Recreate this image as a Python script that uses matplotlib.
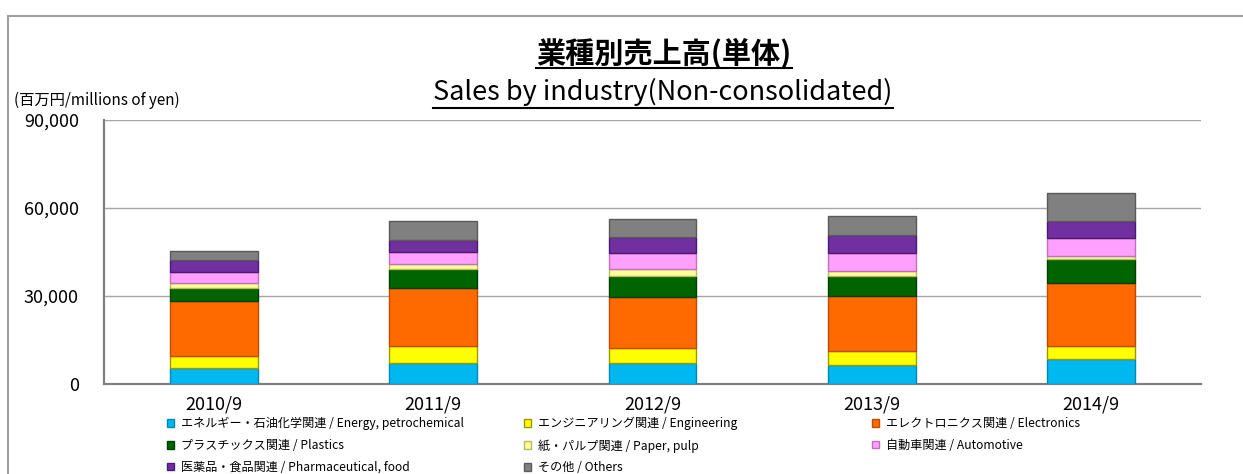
import numpy as np
import matplotlib
matplotlib.use('Agg')
import matplotlib.pyplot as plt
from matplotlib.lines import Line2D
from matplotlib.ticker import FuncFormatter

plt.rcParams['font.family'] = ['Noto Sans CJK JP', 'DejaVu Sans']

# data (millions of yen)
periods = ['2010/9', '2011/9', '2012/9', '2013/9', '2014/9']
energy = [5350, 7270, 7050, 6500, 8400]
engineering = [4300, 5680, 5350, 4750, 4550]
electronics = [18750, 19650, 17400, 18750, 21350]
plastics = [4200, 6600, 7000, 6900, 8200]
paper = [1700, 1600, 2300, 1700, 1100]
automotive = [4000, 4300, 5400, 6200, 6100]
pharma = [4000, 4000, 5500, 6000, 5900]
others = [3000, 6600, 6100, 6500, 9600]

labels = ['エネルギー・石油化学関連 / Energy, petrochemical',
          'エンジニアリング関連 / Engineering',
          'エレクトロニクス関連 / Electronics',
          'プラスチックス関連 / Plastics',
          '紙・パルプ関連 / Paper, pulp',
          '自動車関連 / Automotive',
          '医薬品・食品関連 / Pharmaceutical, food',
          'その他 / Others']
colors = ['#00B8F0', '#FFFF00', '#FF6A00', '#006400',
          '#FFFF99', '#FFA0FF', '#7030A0', '#808080']
edges = ['#0088B8', '#9A9A00', '#C04A00', '#004000',
         '#B8B860', '#C070C0', '#4A1A70', '#5A5A5A']

series = [energy, engineering, electronics, plastics, paper, automotive, pharma, others]

fig = plt.figure(figsize=(12.43, 4.74), dpi=100)
ax = fig.add_axes([104/1243, 1-384/474, (1201-104)/1243, (384-120)/474])

x = np.arange(len(periods))
bottom = np.zeros(len(periods))
handles = []
for vals, lab, c, ec in zip(series, labels, colors, edges):
    b = ax.bar(x, vals, 0.4, bottom=bottom, color=c, edgecolor=ec, linewidth=1.0, label=lab, zorder=3)
    handles.append(b)
    bottom += np.array(vals)

ax.set_xlim(-0.5, len(periods) - 0.5)
ax.set_ylim(0, 90000)
ax.set_yticks([0, 30000, 60000, 90000])
ax.yaxis.set_major_formatter(FuncFormatter(lambda v, p: f'{int(v):,}'))
ax.set_xticks(x)
ax.set_xticklabels(periods)
ax.tick_params(axis='both', length=0, labelsize=13)
ax.tick_params(axis='x', pad=8)
ax.tick_params(axis='y', pad=18)
ax.yaxis.grid(True, color='#A6A6A6', linewidth=1.0, zorder=0)
ax.set_axisbelow(True)
for s in ['top', 'right']:
    ax.spines[s].set_visible(False)
for s in ['left', 'bottom']:
    ax.spines[s].set_color('#808080')
    ax.spines[s].set_linewidth(1.6)

# legends: three columns, filled row by row
cols = [[0, 3, 6], [1, 4, 7], [2, 5]]
col_x = [167, 524, 872]
for idx, cx in zip(cols, col_x):
    fig.legend([handles[i] for i in idx], [labels[i] for i in idx],
               loc='upper left', bbox_to_anchor=(cx/1243, 1-417/474),
               frameon=False, fontsize=8.7, borderpad=0, borderaxespad=0,
               handlelength=0.6, handleheight=0.6, handletextpad=0.6,
               labelspacing=0.72)

fig.text(14/1243, 1-100/474, '(百万円/millions of yen)', fontsize=11, va='center', ha='left')

t1 = fig.text(664/1243, 1-53/474, '業種別売上高(単体)', fontsize=21, fontweight='bold',
              ha='center', va='center')
t2 = fig.text(663/1243, 1-92/474, 'Sales by industry(Non-consolidated)', fontsize=19.5,
              ha='center', va='center')

# underline the title lines
fig.canvas.draw()
r = fig.canvas.get_renderer()
for t, yy in [(t1, 68), (t2, 108)]:
    bb = t.get_window_extent(r)
    fig.add_artist(Line2D([bb.x0/1243, bb.x1/1243], [1-yy/474]*2, color='black', linewidth=1.5))

# outer frame (partially visible)
fig.add_artist(Line2D([8/1243, 1], [1-16/474]*2, color='#A0A0A0', linewidth=1.5))
fig.add_artist(Line2D([8/1243]*2, [0, 1-16/474], color='#A0A0A0', linewidth=1.5))

fig.savefig('out.png', dpi=100)
